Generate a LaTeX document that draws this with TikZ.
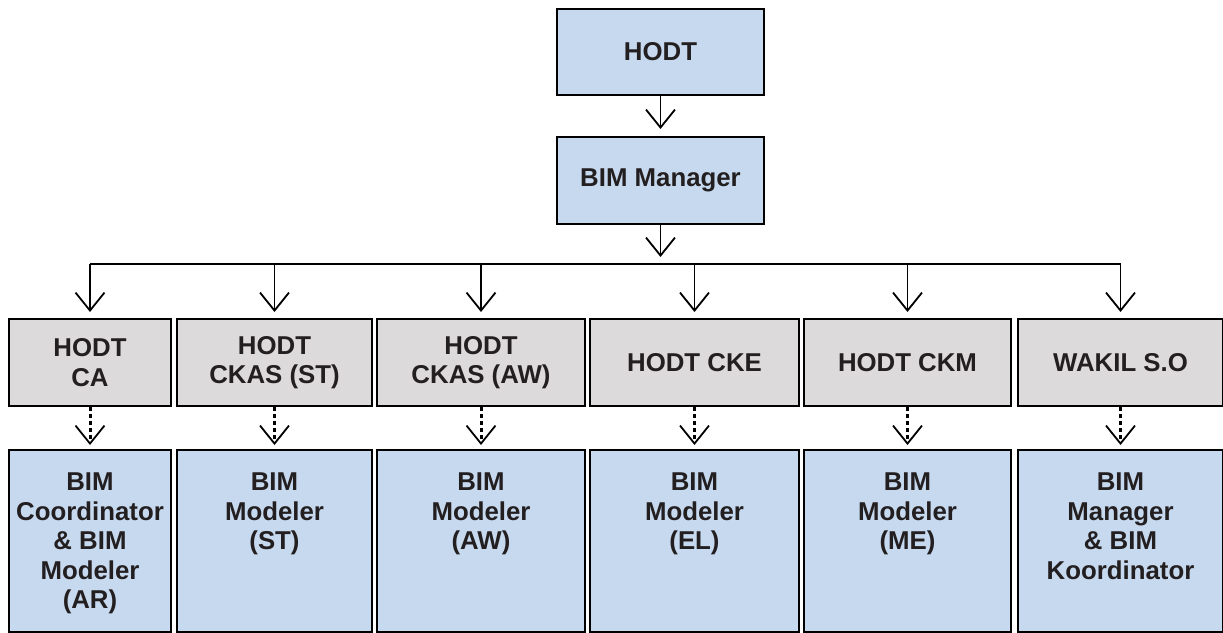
\documentclass[tikz,border=0pt]{standalone}
\usepackage{fontspec}
\setmainfont{Liberation Sans}
\usetikzlibrary{arrows.meta}
\definecolor{boxblue}{HTML}{C6D9EF}
\definecolor{boxgray}{HTML}{DCDADB}
\definecolor{txtcol}{HTML}{231F20}
\tikzset{
  basebox/.style={draw=black, line width=2pt, inner sep=0pt, text=txtcol,
    font=\fontsize{25.8}{29.5}\selectfont\bfseries, align=center, anchor=north west},
  bluebox/.style={basebox, fill=boxblue},
  graybox/.style={basebox, fill=boxgray},
  lbl/.style={inner sep=0pt, text=txtcol, font=\fontsize{25.8}{29.5}\selectfont\bfseries, align=center, anchor=north},
  arr/.style={line width=1.8pt, -{Straight Barb[length=18pt,width=29pt,line width=1.8pt]}},
  dotarr/.style={line width=3pt, dash pattern=on 4pt off 3pt, -{Straight Barb[length=18pt,width=29pt,line width=1.8pt]}},
  busline/.style={line width=1.9pt}
}
\begin{document}
\begin{tikzpicture}[x=1pt,y=-1pt]
\useasboundingbox (0,0) rectangle (1223,632);
% top
\node[bluebox, minimum width=207pt, minimum height=86pt] (hodt) at (556,8) {HODT};
\node[bluebox, minimum width=207pt, minimum height=87pt] (mgr) at (556,136) {BIM Manager};
% row 2
\node[graybox, minimum width=162pt, minimum height=87pt] (a1) at (8,318) {HODT\\CA};
\node[graybox, minimum width=195pt, minimum height=87pt] (a2) at (176,318) {HODT\\CKAS (ST)};
\node[graybox, minimum width=208pt, minimum height=87pt] (a3) at (376,318) {HODT\\CKAS (AW)};
\node[graybox, minimum width=209pt, minimum height=87pt] (a4) at (589,318) {HODT CKE};
\node[graybox, minimum width=207pt, minimum height=87pt] (a5) at (803,318) {HODT CKM};
\node[graybox, minimum width=205pt, minimum height=87pt] (a6) at (1017,318) {WAKIL S.O};
% row 3
\node[bluebox, minimum width=162pt, minimum height=182pt] (c1) at (8,449) {};
\node[bluebox, minimum width=195pt, minimum height=182pt] (c2) at (176,449) {};
\node[bluebox, minimum width=208pt, minimum height=182pt] (c3) at (376,449) {};
\node[bluebox, minimum width=209pt, minimum height=182pt] (c4) at (589,449) {};
\node[bluebox, minimum width=207pt, minimum height=182pt] (c5) at (803,449) {};
\node[bluebox, minimum width=205pt, minimum height=182pt] (c6) at (1017,449) {};
\node[lbl] (t1) at ([yshift=-24pt]c1.north) {BIM\\Coordinator\\\& BIM\\Modeler\\(AR)};
\node[lbl] (t2) at ([yshift=-24pt]c2.north) {BIM\\Modeler\\(ST)};
\node[lbl] (t3) at ([yshift=-24pt]c3.north) {BIM\\Modeler\\(AW)};
\node[lbl] (t4) at ([yshift=-24pt]c4.north) {BIM\\Modeler\\(EL)};
\node[lbl] (t5) at ([yshift=-24pt]c5.north) {BIM\\Modeler\\(ME)};
\node[lbl] (t6) at ([yshift=-24pt]c6.north) {BIM\\Manager\\\& BIM\\Koordinator};
% connectors
\draw[arr, shorten >=7pt] (hodt.south) -- (mgr.north);
\coordinate (bus) at (660,264);
\draw[arr, shorten >=7pt] (mgr.south) -- (mgr.south |- bus);
\draw[busline] (a1.north |- bus) -- (a6.north |- bus);
\foreach \i in {1,...,6}{
  \draw[arr, shorten >=6pt] (a\i.north |- bus) -- (a\i.north);
  \draw[dotarr, shorten >=4pt] (a\i.south) -- (c\i.north);
}
\end{tikzpicture}
\end{document}
